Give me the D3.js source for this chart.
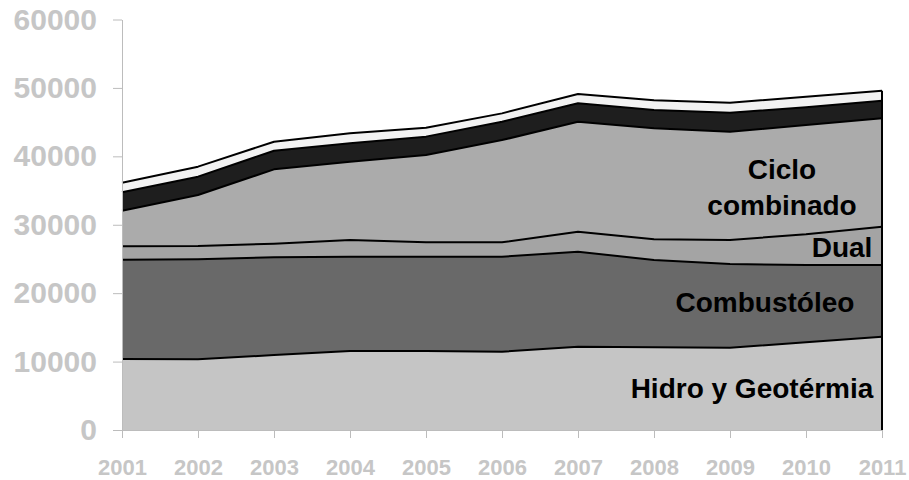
<!DOCTYPE html>
<html>
<head>
<meta charset="utf-8">
<script src="https://cdn.jsdelivr.net/npm/d3@7"></script>
<style>
  html, body { margin: 0; padding: 0; background: #ffffff; }
  svg { display: block; }
  text { font-family: "Liberation Sans", Arial, sans-serif; font-weight: bold; }
</style>
</head>
<body>
<svg id="chart" width="909" height="480"></svg>
<script>
// ---- data ----
const years = [2001, 2002, 2003, 2004, 2005, 2006, 2007, 2008, 2009, 2010, 2011];
const seriesNames = ["Hidro y Geotérmia", "Combustóleo", "Dual", "Ciclo combinado", "Carbón", "Otros"];
const hidro    = [10380, 10330, 10960, 11550, 11550, 11450, 12180, 12100, 12030, 12810, 13640];
const combust  = [14520, 14620, 14280, 13780, 13780, 13880, 13880, 12750, 12230, 11310, 10480];
const dual     = [1950, 1940, 1990, 2440, 2100, 2100, 2920, 3020, 3510, 4480, 5600];
const ciclo    = [5210, 7460, 10870, 11450, 12760, 14950, 16080, 16220, 15830, 15980, 15840];
const carbon   = [2680, 2680, 2720, 2680, 2690, 2680, 2690, 2680, 2780, 2580, 2570];
const otros    = [1400, 1460, 1320, 1460, 1310, 1220, 1360, 1430, 1460, 1560, 1470];
const yTicks = [0, 10000, 20000, 30000, 40000, 50000, 60000];

const seriesValues = [hidro, combust, dual, ciclo, carbon, otros];
const fills = ["#c5c5c5", "#696969", "#a4a4a4", "#ababab", "#1e1e1e", "#f2f2f2"];

// table for the stack
const table = years.map((y, i) => {
  const row = { year: y };
  seriesNames.forEach((n, k) => row[n] = seriesValues[k][i]);
  return row;
});

const svg = d3.select("#chart");
const x = d3.scaleLinear().domain([2001, 2011]).range([122, 882]);
const y = d3.scaleLinear().domain([0, 60000]).range([430, 19.5]);

const stack = d3.stack().keys(seriesNames);
const layers = stack(table);

const area = d3.area()
  .x(d => x(d.data.year))
  .y0(d => y(d[0]))
  .y1(d => y(d[1]));

const topLine = d3.line()
  .x(d => x(d.data.year))
  .y(d => y(d[1]));

svg.append("g").selectAll("path")
  .data(layers)
  .join("path")
  .attr("d", area)
  .attr("fill", (d, i) => fills[i]);

svg.append("g").selectAll("path")
  .data(layers)
  .join("path")
  .attr("d", topLine)
  .attr("fill", "none")
  .attr("stroke", "#000")
  .attr("stroke-width", 2)
  .attr("stroke-linejoin", "round");

// right edge
const last = layers[layers.length - 1][years.length - 1];
svg.append("line")
  .attr("x1", x(2011)).attr("x2", x(2011))
  .attr("y1", y(0)).attr("y2", y(last[1]))
  .attr("stroke", "#000").attr("stroke-width", 2);

// axes
const axisColor = "#bcbcbc";
const labelColor = "#c6c6c6";

const yAxis = svg.append("g")
  .attr("transform", `translate(${x(2001)},0)`)
  .call(d3.axisLeft(y).tickValues(yTicks).tickFormat(d3.format("d")).tickSize(9).tickPadding(16).tickSizeOuter(0));
yAxis.selectAll("path, line").attr("stroke", axisColor);
yAxis.selectAll("text")
  .attr("fill", labelColor)
  .style("font-size", "30px")
  .style("font-family", "'Liberation Sans', Arial, sans-serif")
  .style("font-weight", "bold");

const xAxis = svg.append("g")
  .attr("transform", `translate(0,${y(0)})`)
  .call(d3.axisBottom(x).tickValues(years).tickFormat(d3.format("d")).tickSize(8).tickSizeOuter(0));
xAxis.select(".domain").attr("stroke", axisColor).attr("d", `M${x(2001) - 9},0.5H${x(2011)}`);
xAxis.selectAll("line").attr("stroke", axisColor);
xAxis.selectAll("text")
  .attr("fill", labelColor)
  .attr("y", 45)
  .attr("dy", null)
  .style("font-size", "22px")
  .style("font-family", "'Liberation Sans', Arial, sans-serif")
  .style("font-weight", "bold");

// series labels
const labels = [
  { text: "Ciclo", x: 782, y: 179 },
  { text: "combinado", x: 782, y: 215 },
  { text: "Dual", x: 842, y: 257 },
  { text: "Combustóleo", x: 765, y: 312 },
  { text: "Hidro y Geotérmia", x: 752, y: 398 }
];
svg.append("g").selectAll("text")
  .data(labels)
  .join("text")
  .attr("x", d => d.x)
  .attr("y", d => d.y)
  .attr("text-anchor", "middle")
  .attr("fill", "#000")
  .style("font-size", "28px")
  .text(d => d.text);
</script>
</body>
</html>
